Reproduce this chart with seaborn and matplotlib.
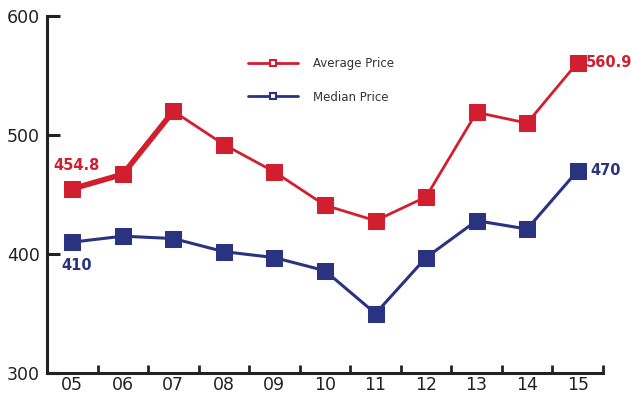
import numpy as np
import pandas as pd
import matplotlib.pyplot as plt
import seaborn as sns
from matplotlib.lines import Line2D
from matplotlib.ticker import FixedLocator

# datos
years = ["05", "06", "07", "08", "09", "10", "11", "12", "13", "14", "15"]
average_price = [454.8, 467, 520, 492, 469, 441, 428, 448, 519, 510, 560.9]
median_price = [410, 415, 413, 402, 397, 386, 350, 397, 428, 421, 470]

red = "#d21f30"
blue = "#293380"

sns.set_style("white")
plt.rcParams["font.family"] = ["DejaVu Sans"]

df = pd.DataFrame({"x": np.arange(len(years)), "avg": average_price, "med": median_price})

fig = plt.figure(figsize=(6.31, 3.99), dpi=100)
ax = fig.add_axes([0.0745, 0.065, 0.881, 0.895])

sns.lineplot(data=df, x="x", y="avg", ax=ax, color=red, lw=2, marker="s",
             markersize=12, markeredgecolor=red, zorder=3)
# tramo inicial mas grueso
sns.lineplot(data=df.iloc[:3], x="x", y="avg", ax=ax, color=red, lw=4, zorder=2)
sns.lineplot(data=df, x="x", y="med", ax=ax, color=blue, lw=2.2, marker="s",
             markersize=12, markeredgecolor=blue, zorder=3)

ax.set_xlim(-0.5, len(years) - 0.5)
ax.set_ylim(300, 600)
ax.set_xticks(df["x"])
ax.set_xticklabels(years)
ax.xaxis.set_minor_locator(FixedLocator(np.arange(0.5, len(years), 1.0)))
ax.set_yticks([300, 400, 500, 600])
ax.set_xlabel("")
ax.set_ylabel("")

for s in ["top", "right"]:
    ax.spines[s].set_visible(False)
for s in ["left", "bottom"]:
    ax.spines[s].set_color("#222222")
    ax.spines[s].set_linewidth(2.2)

ax.tick_params(axis="y", which="major", direction="in", length=9, width=2.2,
               color="#222222", labelsize=12.5, labelcolor="#222222", pad=5, left=True)
ax.tick_params(axis="x", which="major", length=0, labelsize=12.5, labelcolor="#222222", pad=2)
ax.tick_params(axis="x", which="minor", direction="in", length=6, width=2,
               color="#222222", bottom=True)

# etiquetas de valores
ax.annotate(f"{average_price[0]}", (0, average_price[0]), xytext=(3, 17),
            textcoords="offset points", ha="center", va="center",
            color=red, fontsize=10.5, fontweight="bold")
ax.annotate(f"{median_price[0]}", (0, median_price[0]), xytext=(3, -17),
            textcoords="offset points", ha="center", va="center",
            color=blue, fontsize=10.5, fontweight="bold")
ax.annotate(f"{average_price[-1]}", (10, average_price[-1]), xytext=(6, 0),
            textcoords="offset points", ha="left", va="center",
            color=red, fontsize=10.5, fontweight="bold")
ax.annotate(f"{median_price[-1]}", (10, median_price[-1]), xytext=(9, 0),
            textcoords="offset points", ha="left", va="center",
            color=blue, fontsize=10.5, fontweight="bold")

# leyenda
handles = [
    Line2D([], [], color=red, lw=2, marker="s", markersize=5,
           markerfacecolor="white", markeredgecolor=red, markeredgewidth=1.5),
    Line2D([], [], color=blue, lw=2, marker="s", markersize=5,
           markerfacecolor="white", markeredgecolor=blue, markeredgewidth=1.5),
]
leg = ax.legend(handles, ["Average Price", "Median Price"], loc="upper left",
                bbox_to_anchor=(0.343, 0.915), frameon=False, fontsize=8.5,
                handlelength=4.2, labelspacing=1.75, handletextpad=1.3)
for t in leg.get_texts():
    t.set_color("#333333")

plt.savefig("out.png", dpi=100)
